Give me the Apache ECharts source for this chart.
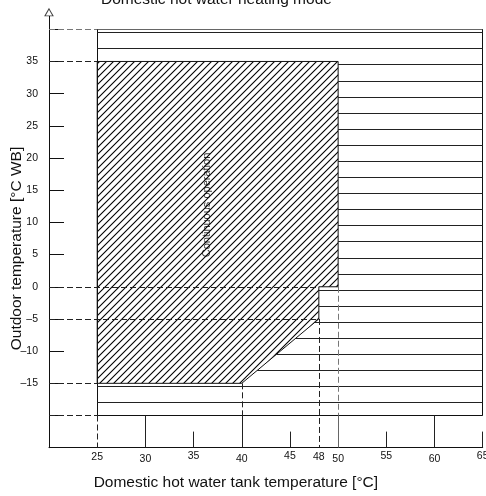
<!DOCTYPE html>
<html>
<head>
<meta charset="utf-8">
<style>
html, body { margin: 0; padding: 0; background: #fff; }
#chart { width: 486px; height: 496px; }
</style>
<script src="https://cdn.jsdelivr.net/npm/echarts@6/dist/echarts.min.js"></script>
</head>
<body>
<div id="chart"></div>
<script>
// axis values
const xTickLabels = [25, 30, 35, 40, 45, 48, 50, 55, 60, 65]
const yTickLabels = [35, 30, 25, 20, 15, 10, 5, 0, -5, -10, -15]
const yTicks = [40, 35, 30, 25, 20, 15, 10, 5, 0, -5, -10, -15, -20]
const xTickLong = [30, 40, 50, 60]
const xTickShort = [35, 45, 55, 65]

// continuous operation zone (hatched)
const hatchArea = [[25, 35], [50, 35], [50, 0], [48, 0], [48, -5], [40, -15], [25, -15]]
// outer frame
const frameX = [25, 65]
const frameY = [-20, 40]
// horizontal lines of the frame: level and where each one starts
const hLineY = [-18, -15.5, -13, -10.5, -8, -5.5, -3, -0.5, 2, 4.5, 7, 9.5, 12, 14.5, 17, 19.5, 22, 24.5, 27, 29.5, 32, 34.5, 37, 39.5]
const hLineStart = [25, 25, 41.6, 43.6, 45.6, 47.6, 48, 48, 50, 50, 50, 50, 50, 50, 50, 50, 50, 50, 50, 50, 50, 50, 25, 25]
// dashed guides: [y, x end] and [x, y top, y bottom]
const guideH = [[40, 25], [35, 25], [0, 48], [-5, 48], [-15, 25], [-20, 25]]
const guideV = [[25, -20, -25], [40, -15, -20], [48, -5, -25], [50, 0, -20]]
const labelPos = [36.4, 12.7]

const xMin = 20, xMax = 65, yMin = -25, yMax = 42
const tickFont = '"Liberation Sans Narrow", "Arial Narrow", sans-serif'
const textFont = '"Liberation Sans", Arial, sans-serif'
const labelRow = { 25: 'm', 30: 'l', 35: 'h', 40: 'l', 45: 'h', 48: 'm', 50: 'l', 55: 'h', 60: 'l', 65: 'h' }

// hatch pattern
function makeHatch() {
  const s = 7
  const c = document.createElement('canvas')
  c.width = s
  c.height = s
  const ctx = c.getContext('2d')
  ctx.fillStyle = '#fff'
  ctx.fillRect(0, 0, s, s)
  ctx.strokeStyle = '#000'
  ctx.lineWidth = 1.1
  ctx.beginPath()
  ctx.moveTo(-1, s + 1); ctx.lineTo(s + 1, -1)
  ctx.moveTo(-1, 1); ctx.lineTo(1, -1)
  ctx.moveTo(s - 1, s + 1); ctx.lineTo(s + 1, s - 1)
  ctx.stroke()
  return c
}

function seg(x0, y0, x1, y1, color, type) {
  return { coords: [[x0, y0], [x1, y1]], lineStyle: { color: color || '#111', width: 1, opacity: 1, type: type || 'solid' } }
}

const segs = []
// frame
segs.push(seg(frameX[0], frameY[0], frameX[1], frameY[0]))
segs.push(seg(frameX[0], frameY[1], frameX[1], frameY[1], '#666'))
segs.push(seg(frameX[0], frameY[0], frameX[0], frameY[1]))
segs.push(seg(frameX[1], frameY[0], frameX[1], frameY[1]))
hLineY.forEach((y, i) => segs.push(seg(hLineStart[i], y, frameX[1], y, '#222')))
// guides
guideH.forEach(g => segs.push(seg(xMin, g[0], g[1], g[0], g[0] === 40 ? '#777' : '#222', [6, 3])))
guideV.forEach(g => segs.push(seg(g[0], g[1], g[0], g[2], g[0] === 50 ? '#777' : '#222', [6, 3])))
// x ticks
xTickLong.forEach(x => segs.push(seg(x, yMin, x, -20, x === 50 ? '#666' : '#222')))
xTickShort.forEach(x => segs.push(seg(x, yMin, x, -22.5, '#222')))

const hatch = makeHatch()
const myChart = echarts.init(document.getElementById('chart'), null, { renderer: 'canvas' })
myChart.setOption({
  animation: false,
  backgroundColor: '#fff',
  title: {
    text: 'Domestic hot water heating mode',
    left: 96,
    top: -13,
    textStyle: { fontFamily: textFont, fontSize: 15.5, fontWeight: 'normal', color: '#111' },
  },
  grid: { left: 49, right: 3.3, top: 16.4, bottom: 48.3, containLabel: false, outerBoundsMode: 'none' },
  xAxis: {
    type: 'value',
    min: xMin,
    max: xMax,
    name: 'Domestic hot water tank temperature [°C]',
    nameLocation: 'middle',
    nameGap: 27,
    nameMoveOverlap: false,
    nameTextStyle: { fontFamily: textFont, fontSize: 15.5, color: '#111', padding: [0, 60, 0, 0] },
    splitLine: { show: false },
    axisTick: { show: false },
    axisLine: { show: true, onZero: false, lineStyle: { color: '#111', width: 1 } },
    axisLabel: {
      customValues: xTickLabels,
      margin: 3,
      formatter: v => '{' + (labelRow[v] || 'h') + '|' + v + '}',
      rich: {
        h: { fontFamily: tickFont, fontSize: 10.5, lineHeight: 10, color: '#111', padding: [0, 0, 0, 0] },
        m: { fontFamily: tickFont, fontSize: 10.5, lineHeight: 10, color: '#111', padding: [3.5, 0, 0, 0] },
        l: { fontFamily: tickFont, fontSize: 10.5, lineHeight: 10, color: '#111', padding: [7, 0, 0, 0] },
      },
    },
  },
  yAxis: {
    type: 'value',
    min: yMin,
    max: yMax,
    name: 'Outdoor temperature [°C WB]',
    nameLocation: 'middle',
    nameGap: 24,
    nameRotate: 90,
    nameMoveOverlap: false,
    nameTextStyle: { fontFamily: textFont, fontSize: 15.5, color: '#111', padding: [0, 33, 0, 0] },
    splitLine: { show: false },
    axisLine: { show: true, onZero: false, lineStyle: { color: '#111', width: 1 } },
    axisTick: { show: true, inside: true, length: 15, customValues: yTicks, lineStyle: { color: '#111', width: 1 } },
    axisLabel: {
      customValues: yTickLabels,
      margin: 11,
      fontFamily: tickFont,
      fontSize: 10.5,
      color: '#111',
      formatter: v => (v < 0 ? '\u2013' + (-v) : '' + v),
    },
  },
  series: [
    {
      type: 'custom',
      z: 1,
      data: [hatchArea[0]],
      renderItem: (params, api) => ({
        type: 'polygon',
        shape: { points: hatchArea.map(p => api.coord(p)) },
        style: { fill: { image: hatch, repeat: 'repeat' }, stroke: '#111', lineWidth: 1 },
      }),
      silent: true,
    },
    {
      type: 'lines',
      coordinateSystem: 'cartesian2d',
      z: 2,
      silent: true,
      data: segs,
    },
    {
      type: 'scatter',
      z: 3,
      silent: true,
      symbolSize: 0,
      data: [labelPos],
      label: {
        show: true,
        position: 'inside',
        rotate: 90,
        formatter: 'Continuous operation',
        fontFamily: textFont,
        fontSize: 11,
        color: '#000',
      },
    },
    {
      type: 'scatter',
      z: 3,
      silent: true,
      clip: false,
      symbol: 'triangle',
      symbolSize: [8, 7],
      symbolOffset: [0, -4],
      data: [[xMin, yMax]],
      itemStyle: { color: '#fff', borderColor: '#111', borderWidth: 1 },
    },
  ],
})
</script>
</body>
</html>
